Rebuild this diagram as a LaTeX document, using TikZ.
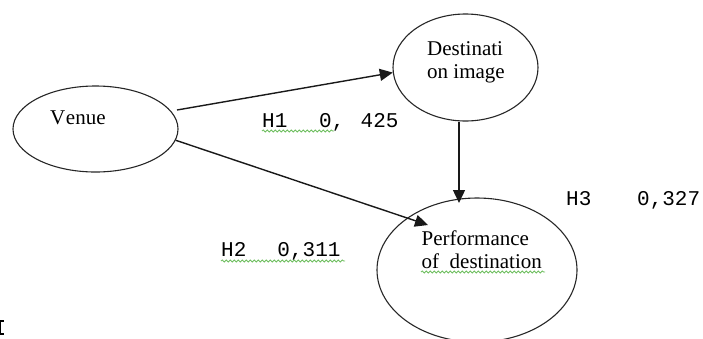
\documentclass[tikz,border=0pt]{standalone}
\usepackage{fontspec}
\setmainfont{Liberation Serif}
\setmonofont{Liberation Mono}
\usetikzlibrary{arrows.meta,shapes.geometric,decorations.pathmorphing}

\begin{document}
\begin{tikzpicture}[x=1pt,y=-1pt,
  construct/.style={shape=ellipse,draw=black!85,line width=1.1pt,inner sep=0pt},
  link/.style={draw=black!90,line width=1.4pt,-{Triangle[length=13pt,width=12pt]}},
  nametext/.style={anchor=base west,inner sep=0pt,font=\fontsize{21}{23}\selectfont},
  coeff/.style={anchor=base west,inner sep=0pt,font=\ttfamily\fontsize{21}{23}\selectfont},
  squiggle/.style={draw={rgb,255:red,110;green,190;blue,95},line width=0.8pt,
    decorate,decoration={snake,amplitude=1.1pt,segment length=4pt}}]
\useasboundingbox (0,0) rectangle (703,338);

% constructs
\node[construct,minimum width=165pt,minimum height=86pt] (venue) at (95.5,129) {};
\node[construct,minimum width=145pt,minimum height=107pt] (dest) at (465.5,67.5) {};
\node[construct,minimum width=200pt,minimum height=144pt] (perf) at (477,270) {};

% construct names
\node[nametext] (venueT) at (50,124) {V\kern0.6pt enue};
\node[nametext] (destA) at (427,55) {Destinati};
\node[nametext] (destB) at (427,78.3) {on image};
\node[nametext] (perfA) at (421.5,245) {Performance};
\node[nametext] (perfB) at (421.5,268.3) {of\ \ destination};

% paths
\coordinate (s1) at (177,110);
\coordinate (t2) at (428,225);
\coordinate (t3) at (459,203);
\draw[link] (s1) -- (dest.184);
\draw[link] (venue.-8) -- (t2);
\draw[link] (dest.south -| t3) -- (t3);

% path coefficients
\node[coeff] (h1) at (262,127) {H1\hspace{31.8pt}0,\hspace{16.3pt}425};
\node[coeff] (h2) at (221,256.7) {H2\hspace{31.1pt}0,311};
\node[coeff] (h3) at (566,205) {H3\hspace{45.8pt}0,327};

% spell-check underlines
\draw[squiggle] (262,131) -- (334,131);
\draw[squiggle] (221,261) -- (345,261);
\draw[squiggle] (421,272) -- (545,272);

% small mark at the lower left edge
\draw[line width=1.2pt] (3.5,321) -- (0.8,321) -- (0.8,334) -- (3.5,334);
\end{tikzpicture}
\end{document}
